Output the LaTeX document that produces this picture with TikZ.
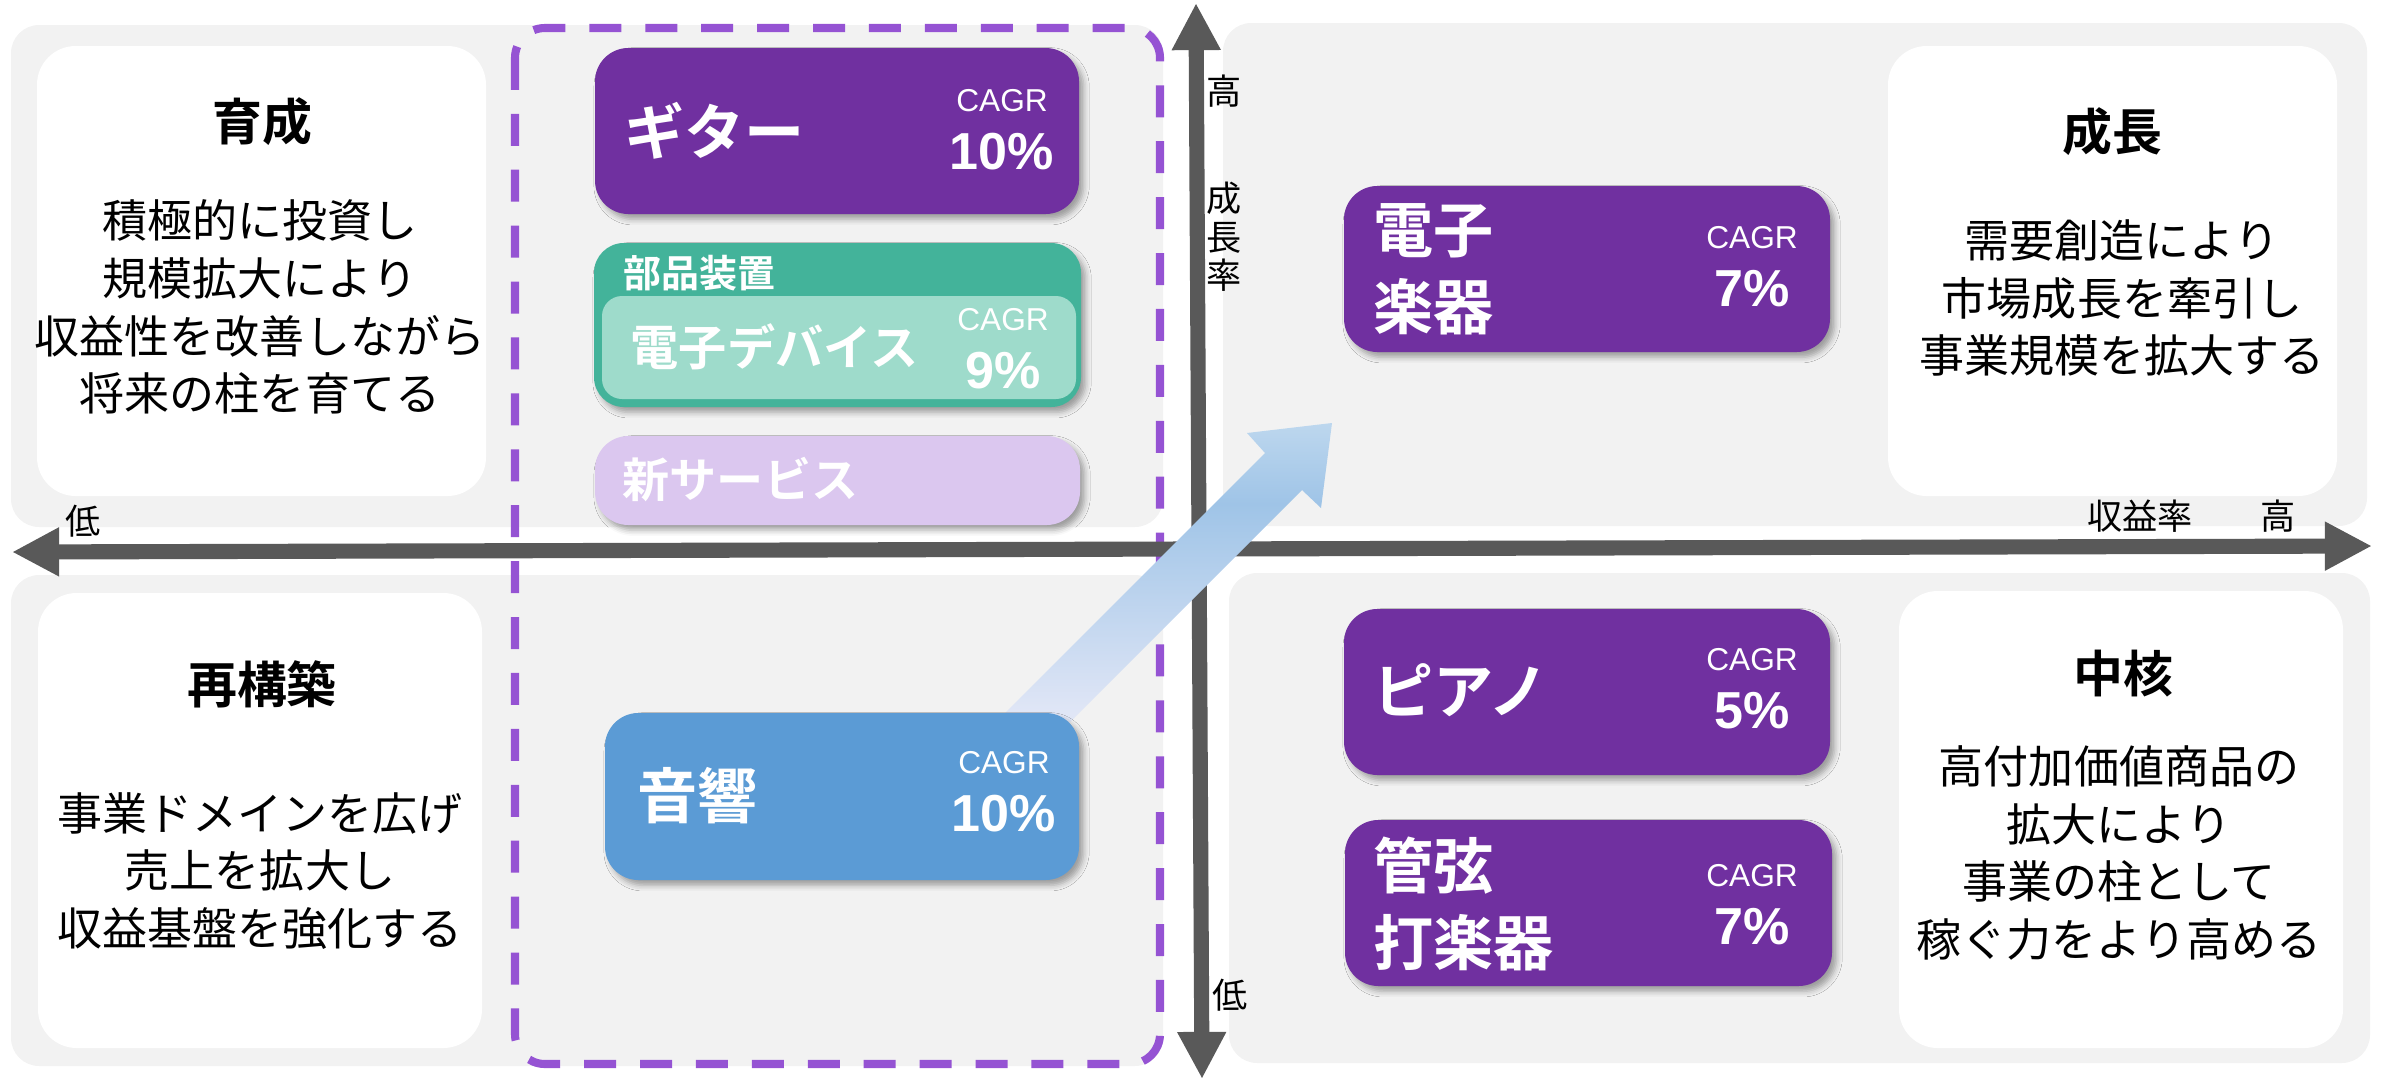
\documentclass[tikz,border=0pt]{standalone}
\usepackage{fontspec}
\setmainfont{Noto Sans CJK JP}[BoldFont={Noto Sans CJK JP Bold}]
\newfontfamily\cagrfont{Liberation Sans}
\usetikzlibrary{arrows.meta,shadows.blur}

\definecolor{quadgray}{HTML}{F2F2F2}
\definecolor{axisgray}{HTML}{595959}
\definecolor{bizpurple}{HTML}{7030A0}
\definecolor{dashpurple}{HTML}{9553D3}
\definecolor{partsgreen}{HTML}{43B39A}
\definecolor{partsmint}{HTML}{9EDBCB}
\definecolor{svclilac}{HTML}{DBC7EF}
\definecolor{audioblue}{HTML}{5B9BD5}
\definecolor{risetop}{HTML}{BDD7EE}
\definecolor{risemid}{HTML}{9FC4E7}
\definecolor{risebot}{HTML}{E0E6F6}
\pgfdeclareverticalshading{risefade}{100bp}{color(0bp)=(risebot); color(32bp)=(risebot); color(63bp)=(risemid); color(75bp)=(risetop); color(100bp)=(risetop)}

\tikzset{
  quadbg/.style={fill=quadgray,rounded corners=8pt},
  notebox/.style={fill=white,rounded corners=11pt},
  prodbox/.style={rounded corners=9.5pt,blur shadow={shadow xshift=1.3pt,shadow yshift=-1.5pt,shadow blur radius=1.6pt,shadow opacity=35}},
  axisline/.style={draw=axisgray,line width=4.3pt,arrows={Triangle[length=13.4pt,width=13pt]-Triangle[length=13.4pt,width=13pt]}},
  headtxt/.style={font=\bfseries\fontsize{14.2pt}{17pt}\selectfont},
  bodytxt/.style={align=center,font=\fontsize{12.8pt}{16.4pt}\selectfont},
  prodtxt/.style={anchor=west,align=left,text=white,font=\bfseries\fontsize{17.1pt}{22pt}\selectfont},
  cagrtxt/.style={text=white,font=\cagrfont\fontsize{9pt}{11pt}\selectfont},
  pcttxt/.style={text=white,font=\cagrfont\bfseries\fontsize{14.8pt}{17pt}\selectfont},
  axtxt/.style={font=\fontsize{10pt}{11pt}\selectfont}
}

\begin{document}
\begin{tikzpicture}[x=0.01cm,y=-0.01cm,inner sep=0pt]
\useasboundingbox (0,0) rectangle (2381,1081);
% quadrants
\fill[quadbg] (11,25) rectangle (1163,527);
\fill[quadbg] (1223,23) rectangle (2367,526);
\fill[quadbg] (11,575) rectangle (1163,1066);
\fill[quadbg] (1229,573) rectangle (2370,1063);
\fill[notebox] (37,46) rectangle (486,496);
\fill[notebox] (1888,46) rectangle (2337,496);
\fill[notebox] (38,593) rectangle (482,1048);
\fill[notebox] (1899,591) rectangle (2343,1048);
% quadrant notes
\node[headtxt] (ikusei) at (262,122) {育成};
\node[bodytxt] (ikuseitxt) at (260,307) {積極的に投資し\\規模拡大により\\収益性を改善しながら\\将来の柱を育てる};
\node[headtxt] (seicho) at (2112,132) {成長};
\node[bodytxt] (seichotxt) at (2122,298) {需要創造により\\市場成長を牽引し\\事業規模を拡大する};
\node[headtxt] (saikochiku) at (262,684) {再構築};
\node[bodytxt] (saikochikutxt) at (260,871) {事業ドメインを広げ\\売上を拡大し\\収益基盤を強化する};
\node[headtxt] (chukaku) at (2123,674) {中核};
\node[bodytxt] (chukakutxt) at (2119,853) {高付加価値商品の\\拡大により\\事業の柱として\\稼ぐ力をより高める};
% focus frame
\draw[dashpurple,line width=2.3pt,dash pattern=on 9.1pt off 6.8pt,rounded corners=8.5pt] (515,28) rectangle (1160,1064);
% axes
\path (12,552)coordinate(xlo) (2372,546)coordinate(xhi)
  (1202,1079)coordinate(ylo) (1196,3)coordinate(yhi);
\draw[axisline] (xlo)--(xhi);
\draw[axisline] (ylo)--(yhi);
\node[axtxt] (xlow) at (83,521) {低};
\node[axtxt] (xname) at (2140,516) {収益率};
\node[axtxt] (xhigh) at (2278,516) {高};
\node[axtxt] (yhigh) at (1224,91) {高};
\node[axtxt,align=center] (yname) at (1224,237) {成\\長\\率};
\node[axtxt] (ylow) at (1230,995) {低};
% rise arrow
\shade[shading=risefade] (958,760)--(1265,453)--(1247,433)--(1332,423)--(1321,508)--(1302,490)--(1032,760)--cycle;
% businesses
\foreach \a/\b/\c/\d in {595/48/1079/214,1344/186/1830/352,1344/609/1830/775,1345/820/1832/986}
  \fill[prodbox,fill=bizpurple] (\a,\b) rectangle (\c,\d);
\fill[prodbox,fill=partsgreen,rounded corners=8.5pt] (594,243) rectangle (1081,407);
\fill[partsmint,rounded corners=5.7pt] (602,296) rectangle (1076,399);
\fill[prodbox,fill=svclilac] (595,436) rectangle (1080,525);
\fill[prodbox,fill=audioblue] (605,713) rectangle (1079,880);
\node[prodtxt] (guitar) at (624,131) {ギター};
\node[prodtxt,font=\bfseries\fontsize{10.8pt}{13pt}\selectfont] (parts) at (623,273) {部品装置};
\node[prodtxt,font=\bfseries\fontsize{13.7pt}{16pt}\selectfont] (edevice) at (630,347) {電子デバイス};
\node[prodtxt,font=\bfseries\fontsize{13.4pt}{16pt}\selectfont] (newsvc) at (622,480) {新サービス};
\node[prodtxt] (audio) at (637,796) {音響};
\node[prodtxt] (einst) at (1373,269) {電子\\楽器};
\node[prodtxt] (piano) at (1373,690) {ピアノ};
\node[prodtxt] (winds) at (1373,904) {管弦\\打楽器};
\foreach \n/\x/\y/\v in {guitar/1002/101/10,edevice/1003/320/9,audio/1004/763/10,einst/1752/238/7,piano/1752/660/5,winds/1752/876/7}{
  \node[cagrtxt] (\n-cagr) at (\x,\y) {CAGR};
  \node[pcttxt] (\n-pct) at (\x,\y+51) {\v\%};
}
\end{tikzpicture}
\end{document}
